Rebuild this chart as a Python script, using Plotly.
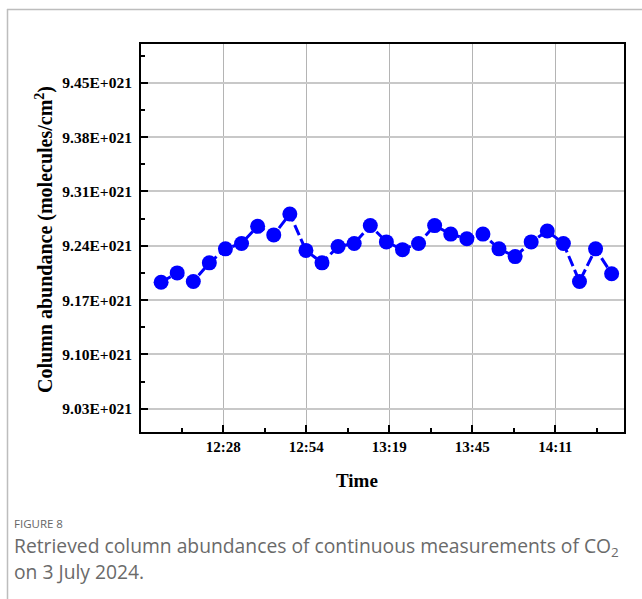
import plotly.graph_objects as go

# ---- data ----
times = ["12:08:48", "12:13:46", "12:18:44", "12:23:41", "12:28:39", "12:33:37",
         "12:38:35", "12:43:33", "12:48:31", "12:53:29", "12:58:26", "13:03:24",
         "13:08:22", "13:13:20", "13:18:18", "13:23:16", "13:28:13", "13:33:11",
         "13:38:09", "13:43:07", "13:48:05", "13:53:02", "13:58:01", "14:02:58",
         "14:07:56", "14:12:54", "14:17:52", "14:22:50", "14:27:47"]
abundance = [9.193e21, 9.205e21, 9.194e21, 9.218e21, 9.236e21, 9.243e21,
             9.265e21, 9.254e21, 9.281e21, 9.234e21, 9.218e21, 9.239e21,
             9.243e21, 9.266e21, 9.245e21, 9.235e21, 9.243e21, 9.266e21,
             9.255e21, 9.249e21, 9.255e21, 9.236e21, 9.226e21, 9.245e21,
             9.259e21, 9.243e21, 9.194e21, 9.236e21, 9.204e21]
x_tick_minutes = [748.0, 773.6, 799.2, 824.8, 850.4]
x_tick_labels = ["12:28", "12:54", "13:19", "13:45", "14:11"]
y_tick_values = [9.03e21, 9.10e21, 9.17e21, 9.24e21, 9.31e21, 9.38e21, 9.45e21]
y_tick_labels = ["9.03E+021", "9.10E+021", "9.17E+021", "9.24E+021",
                 "9.31E+021", "9.38E+021", "9.45E+021"]


def to_minutes(s):
    h, m, sec = s.split(":")
    return int(h) * 60 + int(m) + int(sec) / 60.0


x_vals = [to_minutes(t) for t in times]

SERIF = "Liberation Serif, Times New Roman, serif"
SANS = "Open Sans, sans-serif"

fig = go.Figure()
fig.add_trace(go.Scatter(
    x=x_vals, y=abundance, mode="lines+markers",
    line=dict(color="#0000ff", width=3, dash="11px,4px"),
    marker=dict(color="#0000ff", size=15, line=dict(width=0)),
    showlegend=False, hoverinfo="x+y",
))

W, H = 642, 599
L, R, T, B = 141, 18, 44, 167
pw, ph = W - L - R, H - T - B


def px2paper_x(px):
    return (px - L) / pw


def px2paper_y(py):
    return (H - B - py) / ph


fig.update_layout(
    width=W, height=H,
    margin=dict(l=L, r=R, t=T, b=B, pad=0),
    paper_bgcolor="white", plot_bgcolor="white",
    xaxis=dict(
        range=[722.6, 871.6], tickmode="array", tickvals=x_tick_minutes,
        ticktext=x_tick_labels, ticks="inside", ticklen=7, tickwidth=2,
        tickcolor="black", showline=True, linecolor="black", linewidth=2,
        mirror=True, showgrid=True, gridcolor="#b4b4b4", gridwidth=1,
        zeroline=False,
        tickfont=dict(family=SERIF, size=15, color="black", weight="bold"),
        minor=dict(ticks="inside", ticklen=4, tickwidth=2, tickcolor="black",
                   tickvals=[x_tick_minutes[0] - 12.8] + [v + 12.8 for v in x_tick_minutes],
                   showgrid=False),
    ),
    yaxis=dict(
        range=[9.0e21, 9.5e21], tickmode="array", tickvals=y_tick_values,
        ticktext=y_tick_labels, ticks="inside", ticklen=7, tickwidth=2,
        tickcolor="black", showline=True, linecolor="black", linewidth=2,
        mirror=True, showgrid=True, gridcolor="#c8c8c8", gridwidth=1.5,
        zeroline=False, ticklabelstandoff=4,
        tickfont=dict(family=SERIF, size=15.5, color="black", weight="bold"),
        minor=dict(ticks="inside", ticklen=4, tickwidth=2, tickcolor="black",
                   tickvals=[v + 0.035e21 for v in y_tick_values], showgrid=False),
    ),
    annotations=[
        dict(text="Time", x=px2paper_x(357), y=px2paper_y(480), xref="paper",
             yref="paper", showarrow=False, xanchor="center", yanchor="middle",
             font=dict(family=SERIF, size=19, color="black", weight="bold")),
        dict(text="Column abundance (molecules/cm<sup>2</sup>)", x=px2paper_x(44),
             y=px2paper_y(240), xref="paper", yref="paper", showarrow=False,
             textangle=-90, xanchor="center", yanchor="middle",
             font=dict(family=SERIF, size=20, color="black", weight="bold")),
        dict(text="FIGURE 8", x=px2paper_x(12), y=px2paper_y(523), xref="paper",
             yref="paper", showarrow=False, xanchor="left", yanchor="middle",
             font=dict(family=SANS, size=11.5, color="#666666")),
        dict(text="Retrieved column abundances of continuous measurements of CO<sub>2</sub>",
             x=px2paper_x(12), y=px2paper_y(546), xref="paper", yref="paper",
             showarrow=False, xanchor="left", yanchor="middle",
             font=dict(family=SANS, size=19.3, color="#6a6a6a")),
        dict(text="on 3 July 2024.", x=px2paper_x(12), y=px2paper_y(571),
             xref="paper", yref="paper", showarrow=False, xanchor="left",
             yanchor="middle",
             font=dict(family=SANS, size=19.3, color="#6a6a6a")),
    ],
    shapes=[
        dict(type="line", xref="paper", yref="paper",
             x0=px2paper_x(7), x1=px2paper_x(W), y0=px2paper_y(9.5), y1=px2paper_y(9.5),
             line=dict(color="#bdbdbd", width=1.5)),
        dict(type="line", xref="paper", yref="paper",
             x0=px2paper_x(7.5), x1=px2paper_x(7.5), y0=px2paper_y(9), y1=px2paper_y(H),
             line=dict(color="#bdbdbd", width=1.5)),
    ],
)

fig.write_html("out.html")
